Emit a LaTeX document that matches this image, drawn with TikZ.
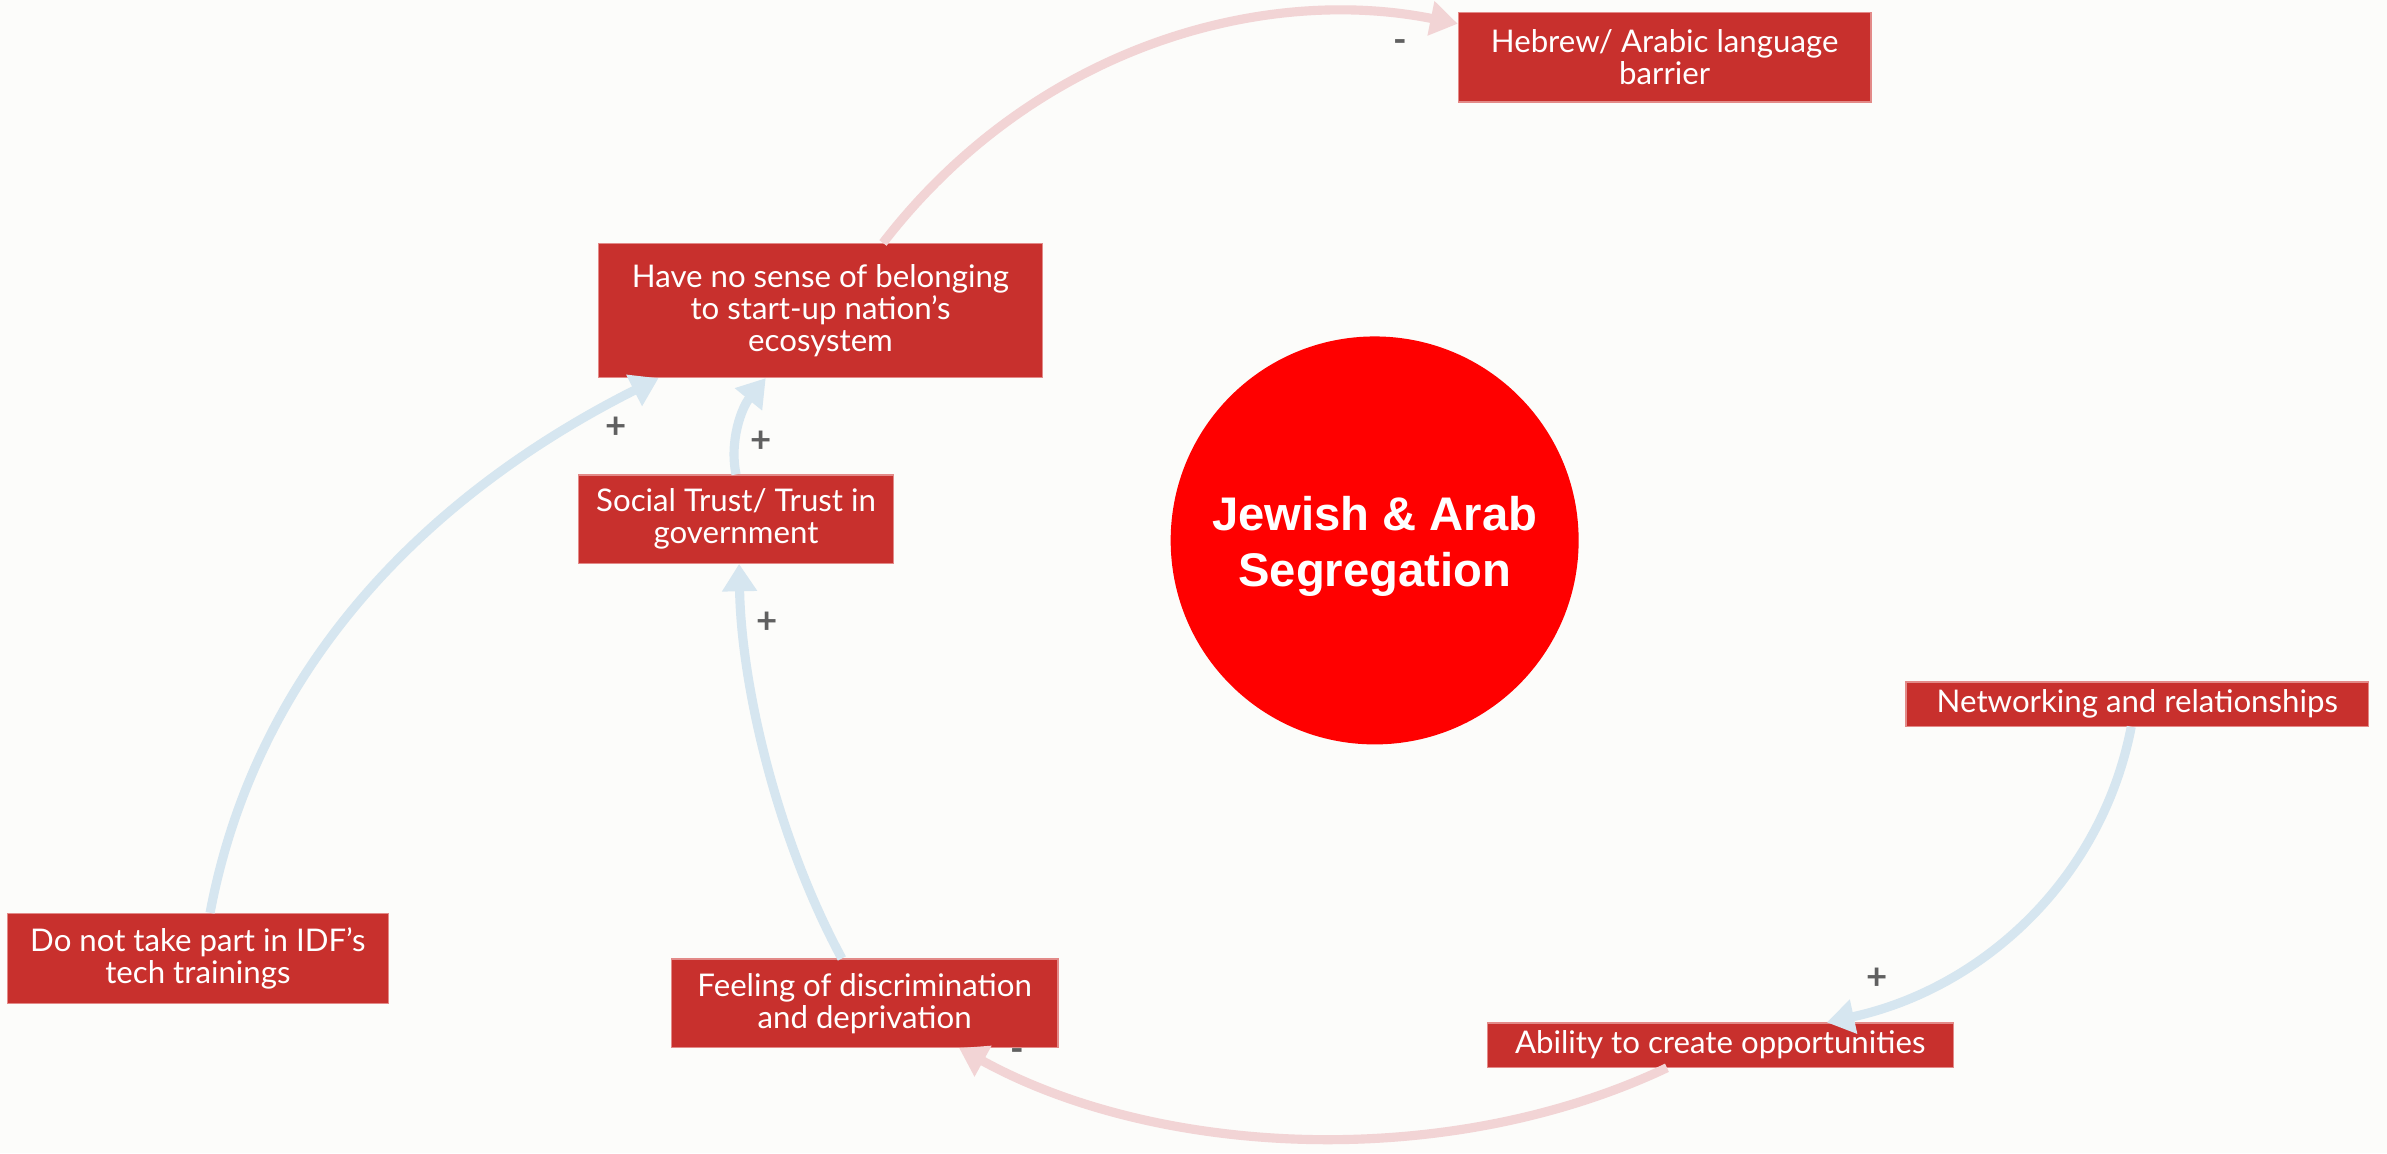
\documentclass[tikz,border=0pt]{standalone}
\usepackage{fontspec}
\setmainfont{Lato}
\newfontfamily\headfont{Liberation Sans}
\usetikzlibrary{arrows.meta}
\definecolor{boxred}{HTML}{C8302D}
\definecolor{boxedge}{HTML}{E38A88}
\definecolor{loopblue}{HTML}{D6E6F0}
\definecolor{looppink}{HTML}{F2D4D5}
\definecolor{signgray}{HTML}{606060}
\definecolor{paper}{HTML}{FCFCFA}
\tikzset{
  factor/.style={draw=boxedge, line width=0.8pt, fill=boxred, text=white, align=center, inner sep=0pt, font=\fontsize{20.5}{21}\selectfont},
  pluslink/.style={draw=loopblue, line width=6pt, -{Triangle[length=18pt,width=22pt]}},
  minuslink/.style={draw=looppink, line width=6pt, -{Triangle[length=18pt,width=22pt]}},
  sign/.style={text=signgray, font=\bfseries\fontsize{24}{24}\selectfont, inner sep=0pt}
}

\begin{document}
\begin{tikzpicture}[x=1pt,y=-1pt]
\fill[paper] (0,0) rectangle (1568,757.4);
\useasboundingbox (0,0) rectangle (1568,757.4);
% central theme
\node[circle, fill=red, minimum size=268pt] (seg) at (903,355) {};
\node[text=white, align=center, font=\headfont\bfseries\fontsize{31}{37}\selectfont] (segtext) at ([yshift=-4pt]seg.center) {Jewish \& Arab\\Segregation};
% factors
\node[factor, minimum width=271pt, minimum height=59pt] (heb) at (1093.5,37.5) {Hebrew/ Arabic language\\barrier};
\node[factor, minimum width=292pt, minimum height=88pt] (have) at (539,204) {Have no sense of belonging\\to start-up nation’s\\ecosystem};
\node[factor, minimum width=207pt, minimum height=58pt] (soc) at (483.5,341) {Social Trust/ Trust in\\government};
\node[factor, minimum width=304pt, minimum height=29pt] (net) at (1404,462.5) {Networking and relationships};
\node[factor, minimum width=250pt, minimum height=59pt] (idf) at (130,629.5) {Do not take part in IDF’s\\tech trainings};
\node[factor, minimum width=254pt, minimum height=58pt] (feel) at (568,659) {Feeling of discrimination\\and deprivation};
\node[factor, minimum width=306pt, minimum height=29pt] (abil) at (1130,686.5) {Ability to create opportunities};
% links
\draw[minuslink] ([xshift=41pt]have.north) .. controls (680,30) and (830,-10) .. ([yshift=-8pt]heb.north west);
\draw[pluslink] ([xshift=8pt]idf.north) .. controls (170,430) and (290,320) .. ([xshift=40pt]have.south west);
\draw[pluslink] (soc.north) .. controls (479,290) and (487,268) .. ([xshift=-36pt]have.south);
\draw[pluslink] ([xshift=-15pt]feel.north) .. controls (510,550) and (487,450) .. ([xshift=2pt]soc.south);
\draw[pluslink] ([xshift=-4pt]net.south) .. controls (1380,580) and (1300,650) .. ([xshift=70pt]abil.north);
\draw[minuslink] ([xshift=-35pt]abil.south) .. controls (950,770) and (760,760) .. ([xshift=62pt]feel.south);
% polarity signs
\node[sign] (s1) at (920,30) {-};
\node[sign] (s2) at (405,281) {+};
\node[sign] (s3) at (500,290) {+};
\node[sign] (s4) at (504,409) {+};
\node[sign] (s5) at (1233,643) {+};
\node[sign] (s6) at (668,693) {-};
\end{tikzpicture}
\end{document}
